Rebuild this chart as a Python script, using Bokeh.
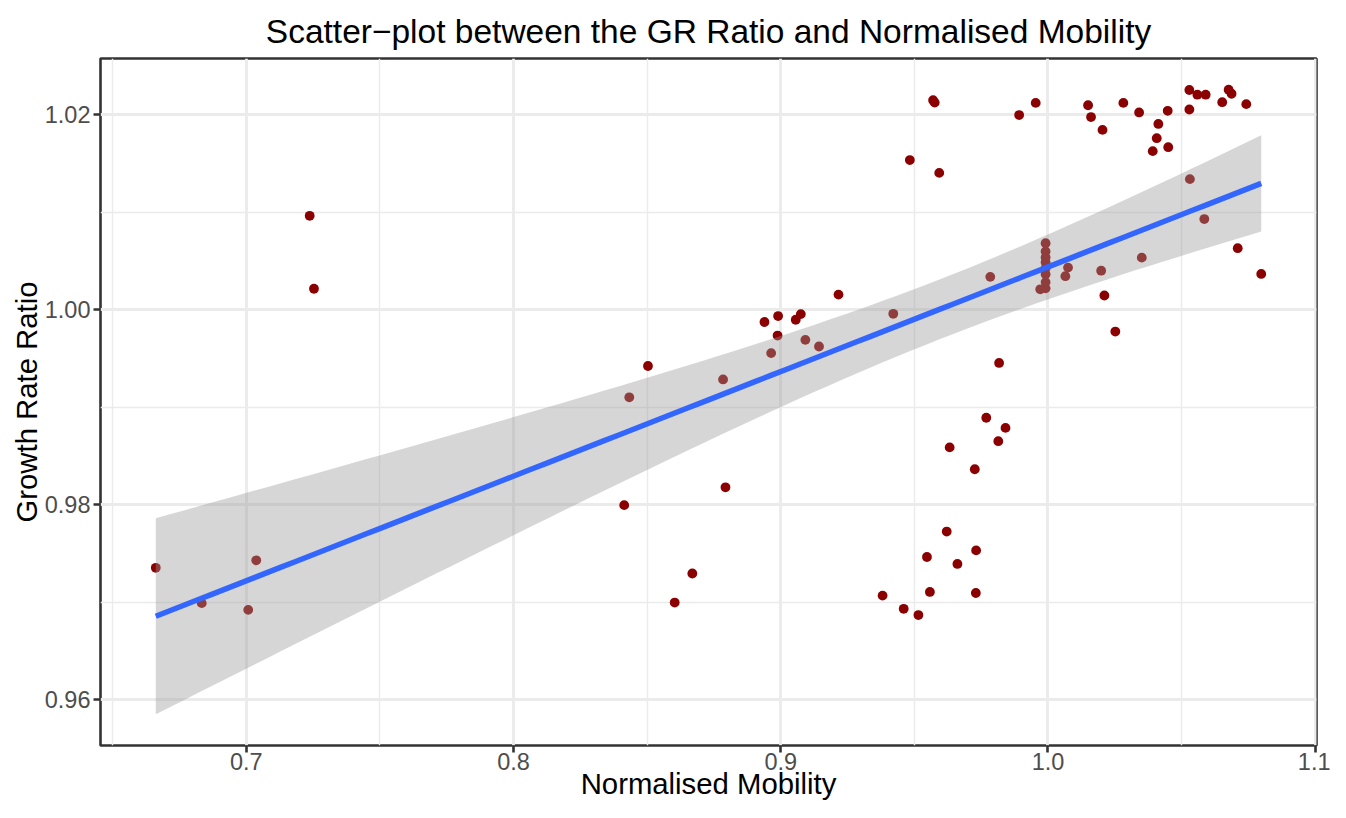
import numpy as np
from bokeh.plotting import figure
from bokeh.models import Range1d, FixedTicker, PrintfTickFormatter, ColumnDataSource
from bokeh.embed import file_html
from bokeh.resources import INLINE

# ---- data ----
mobility = [
    0.6661, 0.6833, 0.7007, 0.7037, 0.7237, 0.7253,
    0.8414, 0.8433, 0.8503, 0.8603, 0.8669, 0.8784, 0.8793, 0.8939, 0.8964,
    0.8988, 0.8990, 0.9056, 0.9075, 0.9092, 0.9143, 0.9216, 0.9381, 0.9421,
    0.9460, 0.9483, 0.9515, 0.9547, 0.9558, 0.9570, 0.9576, 0.9593, 0.9621,
    0.9632, 0.9661, 0.9726, 0.9730, 0.9731, 0.9769, 0.9784, 0.9814, 0.9817,
    0.9841, 0.9892, 0.9954, 0.9971,
    0.9991, 0.9991, 0.9991, 0.9991, 0.9991, 0.9991, 0.9991, 0.9991,
    1.0065, 1.0075, 1.0150, 1.0161, 1.0199, 1.0204, 1.0211, 1.0252, 1.0282,
    1.0341, 1.0351, 1.0392, 1.0407, 1.0413, 1.0448, 1.0450, 1.0529, 1.0529,
    1.0531, 1.0559, 1.0585, 1.0590, 1.0652, 1.0676, 1.0687, 1.0710, 1.0742,
    1.0798,
]
gr_ratio = [
    0.97354, 0.96992, 0.96923, 0.97431, 1.00964, 1.00216,
    0.97997, 0.99103, 0.99424, 0.96998, 0.97296, 0.99286, 0.98180, 0.99875, 0.99556,
    0.99736, 0.99936, 0.99898, 0.99956, 0.99692, 0.99624, 1.00156, 0.97069, 0.99959,
    0.96934, 1.01536, 0.96870, 0.97465, 0.97107, 1.02149, 1.02125, 1.01404, 0.97726,
    0.98589, 0.97394, 0.98365, 0.97096, 0.97533, 0.98893, 1.00338, 0.98653, 0.99455,
    0.98789, 1.01997, 1.02122, 1.00210,
    1.00683, 1.00599, 1.00538, 1.00487, 1.00426, 1.00365, 1.00284, 1.00220,
    1.00345, 1.00433, 1.02098, 1.01977, 1.00401, 1.01845, 1.00147, 0.99777, 1.02122,
    1.02024, 1.00535, 1.01627, 1.01760, 1.01906, 1.02041, 1.01668, 1.02254, 1.02054,
    1.01340, 1.02206, 1.00931, 1.02206, 1.02129, 1.02257, 1.02216, 1.00632, 1.02109,
    1.00368,
]
x_ticks = [0.7, 0.8, 0.9, 1.0, 1.1]
x_minor = [0.65, 0.75, 0.85, 0.95, 1.05]
y_ticks = [0.96, 0.98, 1.00, 1.02]
y_minor = [0.97, 0.99, 1.01]

title_text = "Scatter\u2212plot between the GR Ratio and Normalised Mobility"
x_label = "Normalised Mobility"
y_label = "Growth Rate Ratio"

# ---- linear fit with 95% confidence band (as geom_smooth(method="lm")) ----
x = np.array(mobility)
y = np.array(gr_ratio)
n = len(x)
b1, b0 = np.polyfit(x, y, 1)
xs = np.linspace(x.min(), x.max(), 80)
fit = b0 + b1 * xs
resid = y - (b0 + b1 * x)
s = np.sqrt(np.sum(resid ** 2) / (n - 2))
sxx = np.sum((x - x.mean()) ** 2)
se = s * np.sqrt(1.0 / n + (xs - x.mean()) ** 2 / sxx)
t975 = 1.989
lo = fit - t975 * se
hi = fit + t975 * se

xmin, xmax = x.min(), x.max()
xpad = 0.05 * (xmax - xmin)
ymin = min(y.min(), lo.min())
ymax = max(y.max(), hi.max())
ypad = 0.05 * (ymax - ymin)

FONT = "Liberation Sans"

p = figure(width=1330, height=802, output_backend="svg", toolbar_location=None,
           x_range=Range1d(xmin - xpad, xmax + xpad),
           y_range=Range1d(ymin - ypad, ymax + ypad),
           min_border_left=100, min_border_right=14,
           min_border_top=58, min_border_bottom=56,
           title=title_text)

p.background_fill_color = "white"
p.border_fill_color = "white"
p.outline_line_color = "#333333"
p.outline_line_width = 2.6

p.title.align = "center"
p.title.text_font = FONT
p.title.text_font_size = "33.5px"
p.title.text_font_style = "normal"
p.title.text_color = "black"
p.title.standoff = 18

p.xaxis.ticker = FixedTicker(ticks=x_ticks, minor_ticks=x_minor)
p.yaxis.ticker = FixedTicker(ticks=y_ticks, minor_ticks=y_minor)
p.xaxis.formatter = PrintfTickFormatter(format="%.1f")
p.yaxis.formatter = PrintfTickFormatter(format="%.2f")

for ax in (p.xaxis, p.yaxis):
    ax.axis_line_color = None
    ax.major_tick_line_color = "#333333"
    ax.major_tick_line_width = 2.6
    ax.major_tick_in = 0
    ax.major_tick_out = 7
    ax.minor_tick_in = 0
    ax.minor_tick_out = 0
    ax.major_label_text_font = FONT
    ax.major_label_text_font_size = "23.5px"
    ax.major_label_text_color = "#4D4D4D"
    ax.axis_label_text_font = FONT
    ax.axis_label_text_font_size = "29.3px"
    ax.axis_label_text_font_style = "normal"
    ax.axis_label_text_color = "black"

p.xaxis.axis_label = x_label
p.yaxis.axis_label = y_label
p.xaxis.major_label_standoff = 0
p.xaxis.axis_label_standoff = -6
p.yaxis.major_label_standoff = 3
p.yaxis.axis_label_standoff = -1

for g in (p.xgrid, p.ygrid):
    g.grid_line_color = "#EBEBEB"
    g.grid_line_width = 2.84
    g.minor_grid_line_color = "#EBEBEB"
    g.minor_grid_line_width = 1.42

pts = ColumnDataSource(dict(x=mobility, y=gr_ratio))
p.scatter("x", "y", source=pts, size=9.8, fill_color="#8B0000", line_color=None)

band = ColumnDataSource(dict(x=xs, lo=lo, hi=hi, fit=fit))
p.varea(x="x", y1="lo", y2="hi", source=band, fill_color="#999999", fill_alpha=0.4)
p.line(x="x", y="fit", source=band, line_color="#3366FF", line_width=5.5)

open("out.html", "w").write(file_html(p, INLINE))
